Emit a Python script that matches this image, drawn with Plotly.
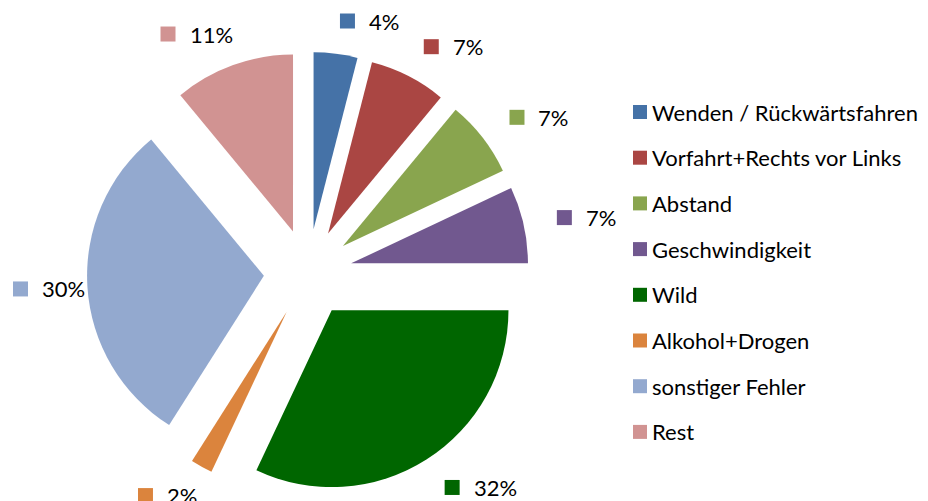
import math
import plotly.graph_objects as go

# ---- data ----
categories = ["Wenden / Rückwärtsfahren", "Vorfahrt+Rechts vor Links", "Abstand",
              "Geschwindigkeit", "Wild", "Alkohol+Drogen", "sonstiger Fehler", "Rest"]
values = [4, 7, 7, 7, 32, 2, 30, 11]
colors = ["#4572A7", "#AA4643", "#89A54E", "#71588F", "#006600", "#DB843D", "#93A9CF", "#D19392"]

# ---- layout constants ----
W, H = 928, 501
CX, CY = 308, 273          # pie centre in px
HALF = 221                 # half-size of pie domain (px)
PULL = 0.25
FONT = "Lato"
FS = 22
LAB_R_RIGHT, LAB_R_LEFT, LAB_RY = 255, 245, 254  # label anchor radii (px)
SQ, GAP = 15, 12

def px_x(x):
    return x / W

def px_y(y):
    return 1 - y / H

fig = go.Figure()
fig.add_trace(go.Pie(
    labels=categories, values=values, sort=False, direction="clockwise", rotation=0,
    marker=dict(colors=colors, line=dict(width=0)),
    pull=[PULL] * len(values), textinfo="none", hoverinfo="label+percent",
    showlegend=False,
    domain=dict(x=[px_x(CX - HALF), px_x(CX + HALF)],
                y=[px_y(CY + HALF), px_y(CY - HALF)]),
))

shapes = []
annotations = []

# percentage labels with coloured squares, placed outside the slice bisectors
total = sum(values)
cum = 0
for v, c in zip(values, colors):
    theta = math.radians(360 * (cum + v / 2) / total)
    cum += v
    txt = f"{round(100 * v / total)}%"
    s = math.sin(theta)
    tw = 12.5 * len(txt)
    width = SQ + GAP + tw
    if s >= 0:
        left = CX + LAB_R_RIGHT * s
    else:
        left = CX + LAB_R_LEFT * s - width
    left = max(13, left)
    ly = CY - LAB_RY * math.cos(theta)
    shapes.append(dict(type="rect", xref="paper", yref="paper",
                       x0=px_x(left), x1=px_x(left + SQ),
                       y0=px_y(ly + SQ / 2), y1=px_y(ly - SQ / 2),
                       fillcolor=c, line=dict(width=0)))
    annotations.append(dict(text=txt, xref="paper", yref="paper",
                            x=px_x(left + SQ + GAP), y=px_y(ly), xanchor="left", yanchor="middle",
                            showarrow=False, font=dict(family=FONT, size=FS, color="#000")))

# legend
LEG_X, LEG_Y0, LEG_DY = 633, 112, 45.7
for i, (name, c) in enumerate(zip(categories, colors)):
    y = LEG_Y0 + i * LEG_DY
    shapes.append(dict(type="rect", xref="paper", yref="paper",
                       x0=px_x(LEG_X), x1=px_x(LEG_X + 14),
                       y0=px_y(y + 7), y1=px_y(y - 7),
                       fillcolor=c, line=dict(width=0)))
    annotations.append(dict(text=name, xref="paper", yref="paper",
                            x=px_x(LEG_X + 17), y=px_y(y), xanchor="left", yanchor="middle",
                            showarrow=False, font=dict(family=FONT, size=FS, color="#000")))

fig.update_layout(
    width=W, height=H, margin=dict(l=0, r=0, t=0, b=0),
    paper_bgcolor="white", plot_bgcolor="white",
    shapes=shapes, annotations=annotations,
)
fig.write_html("out.html", config={"displayModeBar": False},
               post_script="document.body.style.margin='0px';")
